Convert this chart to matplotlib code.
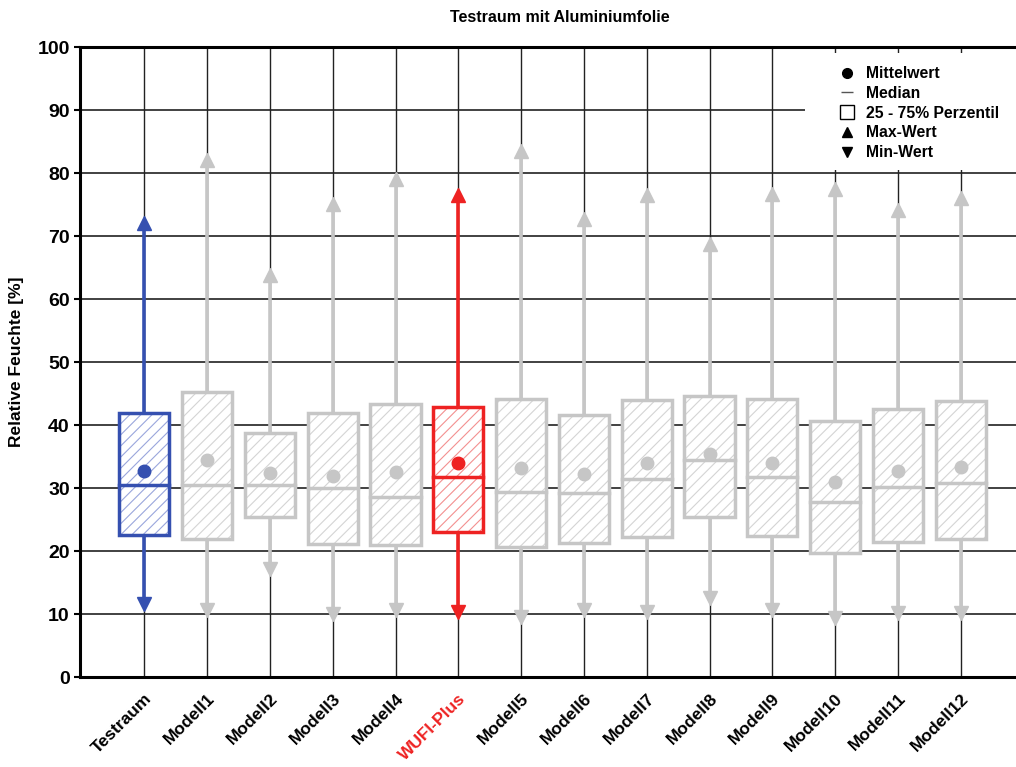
import matplotlib.pyplot as plt
from matplotlib.patches import Rectangle
from matplotlib.lines import Line2D

plt.rcParams['font.family'] = ['Liberation Sans', 'DejaVu Sans']
plt.rcParams['hatch.linewidth'] = 0.8

labels = ['Testraum', 'Modell1', 'Modell2', 'Modell3', 'Modell4', 'WUFI-Plus',
          'Modell5', 'Modell6', 'Modell7', 'Modell8', 'Modell9', 'Modell10',
          'Modell11', 'Modell12']
max_val = [72.0, 82.1, 63.8, 75.1, 79.0, 76.5, 83.5, 72.7, 76.5, 68.7, 76.7, 77.5, 74.1, 76.0]
q3 = [41.9, 45.2, 38.7, 41.9, 43.3, 42.9, 44.1, 41.6, 44.0, 44.6, 44.1, 40.7, 42.5, 43.8]
mean = [32.7, 34.4, 32.4, 31.9, 32.6, 33.9, 33.1, 32.2, 34.0, 35.4, 33.9, 30.9, 32.7, 33.3]
median = [30.5, 30.5, 30.5, 30.0, 28.5, 31.8, 29.3, 29.2, 31.4, 34.4, 31.7, 27.8, 30.1, 30.8]
q1 = [22.5, 21.9, 25.4, 21.1, 20.9, 23.0, 20.6, 21.3, 22.2, 25.4, 22.4, 19.7, 21.5, 21.9]
min_val = [11.6, 10.6, 17.1, 10.0, 10.6, 10.4, 9.5, 10.6, 10.3, 12.5, 10.6, 9.3, 10.1, 10.1]

gray = '#c6c6c6'
colors = {'Testraum': '#3550b0', 'WUFI-Plus': '#ee2222'}
hatch_colors = {'Testraum': '#9aa6dc', 'WUFI-Plus': '#f39090'}

fig = plt.figure(figsize=(10.16, 7.67), dpi=100)
ax = fig.add_axes([0.079, 0.1173, 0.921, 0.8214])
ax.set_xlim(-1.02, 13.88)
ax.set_ylim(0, 100)

# grid
for y in range(10, 100, 10):
    ax.axhline(y, color='#333333', lw=1.3, zorder=1)
for i in range(len(labels)):
    ax.axvline(i, color='#222222', lw=1.0, zorder=1)

w = 0.8
for i, name in enumerate(labels):
    c = colors.get(name, gray)
    hc = hatch_colors.get(name, '#d4d4d4')
    ax.plot([i, i], [q3[i], max_val[i] - 1], color=c, lw=2.6, zorder=3, solid_capstyle='butt')
    ax.plot([i, i], [q1[i], min_val[i] + 1], color=c, lw=2.6, zorder=3, solid_capstyle='butt')
    ax.plot(i, max_val[i], marker='^', ms=10.5, color=c, zorder=4, mec=c)
    ax.plot(i, min_val[i], marker='v', ms=10.5, color=c, zorder=4, mec=c)
    ax.add_patch(Rectangle((i - w / 2, q1[i]), w, q3[i] - q1[i], facecolor='white',
                           edgecolor=hc, hatch='///', lw=0, zorder=3))
    ax.add_patch(Rectangle((i - w / 2, q1[i]), w, q3[i] - q1[i], facecolor='none',
                           edgecolor=c, lw=2.5, zorder=4))
    ax.plot([i - w / 2, i + w / 2], [median[i], median[i]], color=c, lw=2.5, zorder=4)
    ax.plot(i, mean[i], marker='o', ms=9, color=c, mec=c, zorder=5)

ax.set_yticks(range(0, 101, 10))
ax.set_yticklabels([str(v) for v in range(0, 101, 10)], fontsize=14, fontweight='bold')
ax.set_xticks(range(len(labels)))
ax.set_xticklabels(labels, rotation=45, ha='right', rotation_mode='anchor',
                   fontsize=12.5, fontweight='bold')
ax.get_xticklabels()[5].set_color('#ee2222')
ax.tick_params(axis='x', length=0, pad=10)
ax.tick_params(axis='y', length=4, width=1.5)
ax.set_ylabel('Relative Feuchte [%]', fontsize=12.5, fontweight='bold', labelpad=10)

for s in ['left', 'bottom', 'top']:
    ax.spines[s].set_linewidth(2.2)
    ax.spines[s].set_zorder(6)
ax.spines['right'].set_visible(False)

# white area behind the legend
ax.add_patch(Rectangle((0.775, 0.805), 0.23, 0.185, transform=ax.transAxes,
                       facecolor='white', edgecolor='none', zorder=6.5))

handles = [
    Line2D([], [], ls='none', marker='o', color='black', ms=7),
    Line2D([], [], ls='none', marker='_', color='#555555', ms=9),
    Line2D([], [], ls='none', marker='s', mfc='white', mec='black', ms=10, mew=1),
    Line2D([], [], ls='none', marker='^', color='black', ms=7),
    Line2D([], [], ls='none', marker='v', color='black', ms=7),
]
leg = ax.legend(handles, ['Mittelwert', 'Median', '25 - 75% Perzentil', 'Max-Wert', 'Min-Wert'],
                loc='upper right', bbox_to_anchor=(0.997, 0.992), frameon=False,
                prop={'weight': 'bold', 'size': 11.3}, labelspacing=0.3,
                handletextpad=0.6, borderpad=0.4, handlelength=1.2)
leg.set_zorder(7)

fig.text(0.551, 0.977, 'Testraum mit Aluminiumfolie', ha='center', va='center',
         fontsize=11.5, fontweight='bold')

fig.savefig('out.png', dpi=100)
